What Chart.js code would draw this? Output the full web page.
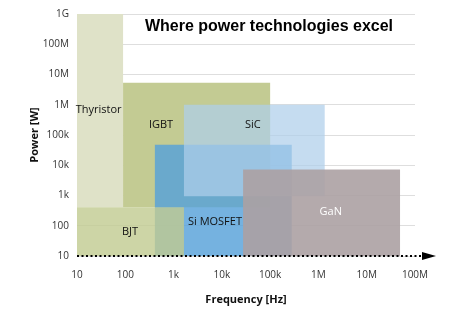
<!DOCTYPE html>
<html>
<head>
<meta charset="utf-8">
<script src="https://cdn.jsdelivr.net/npm/chart.js@4"></script>
<style>
html, body { margin: 0; padding: 0; background: #fff; }
#wrap { width: 450px; height: 326px; position: relative; }
</style>
</head>
<body>
<div id="wrap"><canvas id="techChart"></canvas></div>
<script>
// operating areas, in Hz and W
var technologies = ['Thyristor', 'IGBT', 'Si MOSFET', 'BJT', 'SiC', 'GaN'];
var freqMin = [10, 90, 410, 10, 1640, 27500];
var freqMax = [90, 100000, 280000, 1640, 1350000, 49000000];
var powerMin = [410, 410, 10, 10, 940, 10];
var powerMax = [1e9, 5.3e6, 48000, 410, 1e6, 7200];

var freqTicks = [10, 100, 1e3, 1e4, 1e5, 1e6, 1e7, 1e8];
var freqTickLabels = ['10', '100', '1k', '10k', '100k', '1M', '10M', '100M'];
var powerTicks = [10, 100, 1e3, 1e4, 1e5, 1e6, 1e7, 1e8, 1e9];
var powerTickLabels = ['10', '100', '1k', '10k', '100k', '1M', '10M', '100M', '1G'];

// styling
var fillColors = [
    'rgb(223,226,200)',
    'rgb(195,203,147)',
    'rgba(87,161,217,0.82)',
    'rgba(193,203,144,0.8)',
    'rgba(174,206,234,0.72)',
    'rgba(172,161,163,0.9)'
];
// where each name is written (Hz, W)
var labelAt = [[28, 7e5], [550, 2.2e5], [7200, 130], [125, 62], [44000, 2.2e5], [1800000, 280]];

var datasets = technologies.map(function(name, i) {
    return {
        label: name,
        data: [
            {x: freqMin[i], y: powerMin[i]},
            {x: freqMax[i], y: powerMin[i]},
            {x: freqMax[i], y: powerMax[i]},
            {x: freqMin[i], y: powerMax[i]},
            {x: freqMin[i], y: powerMin[i]}
        ],
        showLine: true,
        fill: 'shape',
        backgroundColor: fillColors[i],
        borderColor: 'rgba(0,0,0,0)',
        borderWidth: 0,
        pointRadius: 0,
        tension: 0,
        order: technologies.length - i
    };
});

var extras = {
    id: 'extras',
    afterDatasetsDraw: function(chart) {
        var ctx = chart.ctx;
        var xs = chart.scales.x, ys = chart.scales.y;
        var area = chart.chartArea;
        ctx.save();

        // names
        ctx.font = '11px "Open Sans"';
        ctx.textAlign = 'center';
        ctx.textBaseline = 'middle';
        technologies.forEach(function(name, i) {
            ctx.fillStyle = name === 'GaN' ? '#ffffff' : '#111111';
            ctx.fillText(name, xs.getPixelForValue(labelAt[i][0]), ys.getPixelForValue(labelAt[i][1]));
        });

        // title inside the plot
        ctx.font = 'bold 16px "Liberation Sans"';
        ctx.fillStyle = '#000000';
        ctx.fillText('Where power technologies excel', area.left + (area.right - area.left) * 0.568, area.top + 13);

        // dotted axis with arrow
        var yb = ys.getPixelForValue(10);
        ctx.strokeStyle = '#000000';
        ctx.lineWidth = 2;
        ctx.setLineDash([2, 2.5]);
        ctx.beginPath();
        ctx.moveTo(area.left, yb);
        ctx.lineTo(area.right + 7, yb);
        ctx.stroke();
        ctx.setLineDash([]);
        ctx.fillStyle = '#000000';
        ctx.beginPath();
        ctx.moveTo(area.right + 7, yb - 4);
        ctx.lineTo(area.right + 21, yb);
        ctx.lineTo(area.right + 7, yb + 4);
        ctx.closePath();
        ctx.fill();

        ctx.restore();
    }
};

var ctx = document.getElementById('techChart').getContext('2d');
var techChart = new Chart(ctx, {
    type: 'scatter',
    data: { datasets: datasets },
    options: {
        responsive: true,
        maintainAspectRatio: false,
        animation: false,
        layout: { padding: { top: 12, right: 35, left: 0, bottom: 0 } },
        plugins: {
            legend: { display: false },
            tooltip: { enabled: false }
        },
        scales: {
            x: {
                type: 'logarithmic',
                min: 10,
                max: 1e8,
                afterBuildTicks: function(scale) {
                    scale.ticks = freqTicks.map(function(v) { return {value: v}; });
                },
                afterFit: function(scale) { scale.height = 70; },
                grid: { display: false },
                border: { display: false },
                ticks: {
                    autoSkip: false,
                    maxRotation: 0,
                    padding: 5,
                    color: '#333333',
                    font: { family: 'Open Sans', size: 10 },
                    callback: function(value, index) { return freqTickLabels[index]; }
                },
                title: {
                    display: true,
                    text: 'Frequency [Hz]',
                    color: '#111111',
                    font: { family: 'Open Sans', size: 11, weight: 'bold' },
                    padding: { top: 0, bottom: 20 }
                }
            },
            y: {
                type: 'logarithmic',
                min: 10,
                max: 1e9,
                afterBuildTicks: function(scale) {
                    scale.ticks = powerTicks.map(function(v) { return {value: v}; });
                },
                afterFit: function(scale) { scale.width = 77; },
                grid: { color: '#dedede', drawTicks: false },
                border: { display: false },
                ticks: {
                    autoSkip: false,
                    padding: 8,
                    color: '#333333',
                    font: { family: 'Open Sans', size: 10 },
                    callback: function(value, index) { return powerTickLabels[index]; }
                },
                title: {
                    display: true,
                    text: 'Power [W]',
                    color: '#111111',
                    font: { family: 'Open Sans', size: 11, weight: 'bold' },
                    padding: { top: 28, bottom: 0 }
                }
            }
        }
    },
    plugins: [extras]
});
</script>
</body>
</html>
